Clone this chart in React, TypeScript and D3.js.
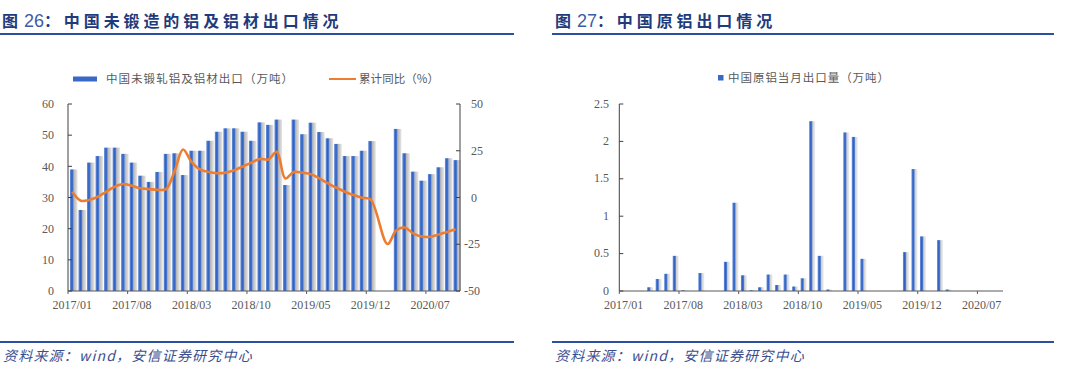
import React from 'react';
import * as d3 from 'd3';

// categories
const months = [
  '2017/01', '2017/02', '2017/03', '2017/04', '2017/05', '2017/06', '2017/07', '2017/08', '2017/09', '2017/10', '2017/11', '2017/12',
  '2018/01', '2018/02', '2018/03', '2018/04', '2018/05', '2018/06', '2018/07', '2018/08', '2018/09', '2018/10', '2018/11', '2018/12',
  '2019/01', '2019/02', '2019/03', '2019/04', '2019/05', '2019/06', '2019/07', '2019/08', '2019/09', '2019/10', '2019/11', '2019/12',
  '2020/01', '2020/02', '2020/03', '2020/04', '2020/05', '2020/06', '2020/07', '2020/08', '2020/09', '2020/10',
];
const monthsRight = months.slice(0, 45);
const xTickLabels = ['2017/01', '2017/08', '2018/03', '2018/10', '2019/05', '2019/12', '2020/07'];

// 中国未锻轧铝及铝材出口（万吨）
const alExport: (number | null)[] = [
  39, 26, 41.2, 43.3, 46, 46, 44, 41.2, 37, 35, 38.2, 44,
  44.2, 37.2, 45, 45, 48.2, 51.1, 52.2, 52.2, 51.1, 48.2, 54.1, 53.3,
  55, 34, 55, 50.3, 54, 51, 49, 47.2, 43.3, 43.3, 45, 48.1,
  null, null, 52, 44.2, 38.3, 35.4, 37.5, 39.7, 42.6, 42,
];
// 累计同比（%）
const alYoy: (number | null)[] = [
  3.1, -1.7, -1.3, 0.4, 3.1, 5.8, 7.2, 6.3, 4.9, 4.5, 4.1, 4.5,
  14, 25.7, 19.1, 15, 13.6, 13, 13.3, 14.6, 16.6, 18.6, 20.6, 20.3,
  24.4, 10.2, 13.7, 13.2, 12.5, 10.2, 7.6, 5.2, 3.1, 1.3, -0.1, -1,
  null, -24.9, -17.7, -16, -19.2, -20.9, -21, -19.8, -18.4, -17,
];
// 中国原铝当月出口量（万吨）
const primaryAl: number[] = [
  0, 0, 0, 0.05, 0.16, 0.23, 0.47, 0.01, 0, 0.24, 0, 0,
  0.39, 1.18, 0.21, 0.01, 0.05, 0.22, 0.08, 0.22, 0.06, 0.17, 2.27, 0.47,
  0.02, 0, 2.12, 2.06, 0.43, 0, 0, 0, 0, 0.52, 1.63, 0.73,
  0, 0.68, 0.02, 0, 0, 0, 0, 0, 0,
];
const leftTicks = [0, 10, 20, 30, 40, 50, 60];
const yoyTicks = [-50, -25, 0, 25, 50];
const rightTicks = [0, 0.5, 1, 1.5, 2, 2.5];

const BLUE_TITLE = '#1f3b7c';
const RULE = '#2b4fa3';
const AXIS = '#595959';
const CJK = '"Noto Sans CJK SC", sans-serif';
const SERIF = '"Liberation Serif", serif';

const App: React.FC = () => {
  const top = 104;
  const bottom = 291;

  const x1 = d3.scaleBand<string>().domain(months).range([68, 460]);
  const y1 = d3.scaleLinear().domain([0, 60]).range([bottom, top]);
  const y1r = d3.scaleLinear().domain([-50, 50]).range([bottom, top]);

  const x2 = d3.scaleBand<string>().domain(monthsRight).range([619.3, 1003]);
  const y2 = d3.scaleLinear().domain([0, 2.5]).range([bottom, top]);

  const bw1 = x1.bandwidth();
  const bw2 = x2.bandwidth();

  const yoyPts = months
    .map((m, i) => ({ m, v: alYoy[i] }))
    .filter((d) => d.v !== null) as { m: string; v: number }[];
  const yoyLine = d3
    .line<{ m: string; v: number }>()
    .x((d) => (x1(d.m) ?? 0) + bw1 / 2)
    .y((d) => y1r(d.v))
    .curve(d3.curveCatmullRom.alpha(0.5));

  const tickStyle = { fontFamily: SERIF, fontSize: 12, fill: AXIS };
  const legendStyle = { fontFamily: CJK, fontSize: 11.5, fill: '#595959' };
  const titleStyle = { fontFamily: CJK, fontSize: 16, fontWeight: 700, letterSpacing: 3.9 };
  const numStyle = { fontFamily: '"Liberation Sans", sans-serif', fontWeight: 400, fontSize: 18, letterSpacing: 0 };
  const srcStyle = { fontFamily: CJK, fontSize: 14, fontStyle: 'italic', letterSpacing: 1.2 };

  return (
    <div style={{ position: 'fixed', left: 0, top: 0 }}>
      <svg width={1080} height={370} style={{ display: 'block', background: '#fff' }}>
        <defs>
          <linearGradient id="barBlue" x1="0" x2="1" y1="0" y2="0">
            <stop offset="0%" stopColor="#6f95dd" />
            <stop offset="50%" stopColor="#2e60c3" />
            <stop offset="100%" stopColor="#5a84d4" />
          </linearGradient>
          <linearGradient id="barShadow" x1="0" x2="1" y1="0" y2="0">
            <stop offset="0%" stopColor="#b0b0b0" />
            <stop offset="100%" stopColor="#e8e8e8" />
          </linearGradient>
        </defs>

        {/* titles */}
        <text x={2} y={27} fill={BLUE_TITLE} style={titleStyle}>
          图<tspan dx={2} style={numStyle} fill="#3d5ca6">26</tspan>
          <tspan>：中国未锻造的铝及铝材出口情况</tspan>
        </text>
        <line x1={0} x2={514} y1={34} y2={34} stroke={RULE} strokeWidth={2} />
        <text x={555} y={27} fill={BLUE_TITLE} style={titleStyle}>
          图<tspan dx={2} style={numStyle} fill="#3d5ca6">27</tspan>
          <tspan>：中国原铝出口情况</tspan>
        </text>
        <line x1={552} x2={1054} y1={34} y2={34} stroke={RULE} strokeWidth={2} />

        {/* legends */}
        <rect x={73} y={76.5} width={24} height={5} fill="#3a68c6" />
        <text x={106} y={83} textLength={187} lengthAdjust="spacing" style={legendStyle}>中国未锻轧铝及铝材出口（万吨）</text>
        <line x1={329} x2={356} y1={79} y2={79} stroke="#ed7d31" strokeWidth={2} />
        <text x={359} y={83} textLength={80} lengthAdjust="spacing" style={legendStyle}>累计同比（%）</text>

        <rect x={718} y={75} width={5.5} height={5.5} fill="#3a68c6" />
        <text x={728} y={82} textLength={161} lengthAdjust="spacing" style={legendStyle}>中国原铝当月出口量（万吨）</text>

        {/* left chart bars */}
        {months.map((m, i) => {
          const v = alExport[i];
          if (v === null) return null;
          const cx = (x1(m) ?? 0) + bw1 / 2;
          return (
            <g key={m}>
              <rect x={cx + 1.3} y={y1(v)} width={4} height={bottom - y1(v)} fill="url(#barShadow)" />
              <rect x={cx - 2.3} y={y1(v)} width={3.7} height={bottom - y1(v)} fill="url(#barBlue)" />
            </g>
          );
        })}
        <path d={yoyLine(yoyPts) ?? ''} fill="none" stroke="#ed7d31" strokeWidth={2.6} strokeLinejoin="round" />

        {/* left chart axes */}
        <line x1={68} x2={68} y1={top} y2={bottom} stroke="#404040" />
        <line x1={460} x2={460} y1={top} y2={bottom} stroke="#404040" />
        <line x1={68} x2={460} y1={bottom} y2={bottom} stroke={AXIS} />
        {leftTicks.map((t) => (
          <g key={'l' + t}>
            <line x1={68} x2={72} y1={y1(t)} y2={y1(t)} stroke="#404040" />
            <text x={54} y={y1(t)} dy="0.35em" textAnchor="end" style={tickStyle}>{t}</text>
          </g>
        ))}
        {yoyTicks.map((t) => (
          <g key={'r' + t}>
            <line x1={456} x2={460} y1={y1r(t)} y2={y1r(t)} stroke="#404040" />
            <text x={t < 0 ? 464 : 471} y={y1r(t)} dy="0.35em" style={tickStyle}>{t}</text>
          </g>
        ))}
        {xTickLabels.map((m) => {
          const xl = x1(m) ?? 0;
          return (
            <g key={'x1' + m}>
              <line x1={xl} x2={xl} y1={bottom} y2={bottom + 3} stroke={AXIS} />
              <text x={xl + bw1 / 2} y={bottom + 18} textAnchor="middle" style={tickStyle}>{m}</text>
            </g>
          );
        })}

        {/* right chart bars */}
        {monthsRight.map((m, i) => {
          const v = primaryAl[i];
          if (!v) return null;
          const cx = (x2(m) ?? 0) + bw2 / 2;
          return (
            <g key={'p' + m}>
              <rect x={cx + 1} y={y2(v)} width={3} height={bottom - y2(v)} fill="url(#barShadow)" opacity={0.7} />
              <rect x={cx - 2} y={y2(v)} width={3.2} height={bottom - y2(v)} fill="url(#barBlue)" />
            </g>
          );
        })}
        <line x1={619.3} x2={619.3} y1={top} y2={bottom} stroke="#404040" />
        <line x1={619.3} x2={1003} y1={bottom} y2={bottom} stroke={AXIS} />
        {rightTicks.map((t) => (
          <g key={'rt' + t}>
            <line x1={619.3} x2={623.3} y1={y2(t)} y2={y2(t)} stroke="#404040" />
            <text x={609} y={y2(t)} dy="0.3em" textAnchor="end" style={tickStyle}>{t}</text>
          </g>
        ))}
        {xTickLabels.map((m) => {
          const xl = x2(m) ?? 0;
          return (
            <g key={'x2' + m}>
              <line x1={xl} x2={xl} y1={bottom} y2={bottom + 3} stroke={AXIS} />
              <text x={xl + bw2 / 2} y={bottom + 18} textAnchor="middle" style={tickStyle}>{m}</text>
            </g>
          );
        })}

        {/* source notes */}
        <line x1={0} x2={514} y1={342} y2={342} stroke={RULE} strokeWidth={2} />
        <line x1={552} x2={1054} y1={342} y2={342} stroke={RULE} strokeWidth={2} />
        <text x={3} y={361} fill="#3b4f8f" style={srcStyle}>资料来源：wind，安信证券研究中心</text>
        <text x={555} y={361} fill="#3b4f8f" style={srcStyle}>资料来源：wind，安信证券研究中心</text>
      </svg>
    </div>
  );
};

export default App;
